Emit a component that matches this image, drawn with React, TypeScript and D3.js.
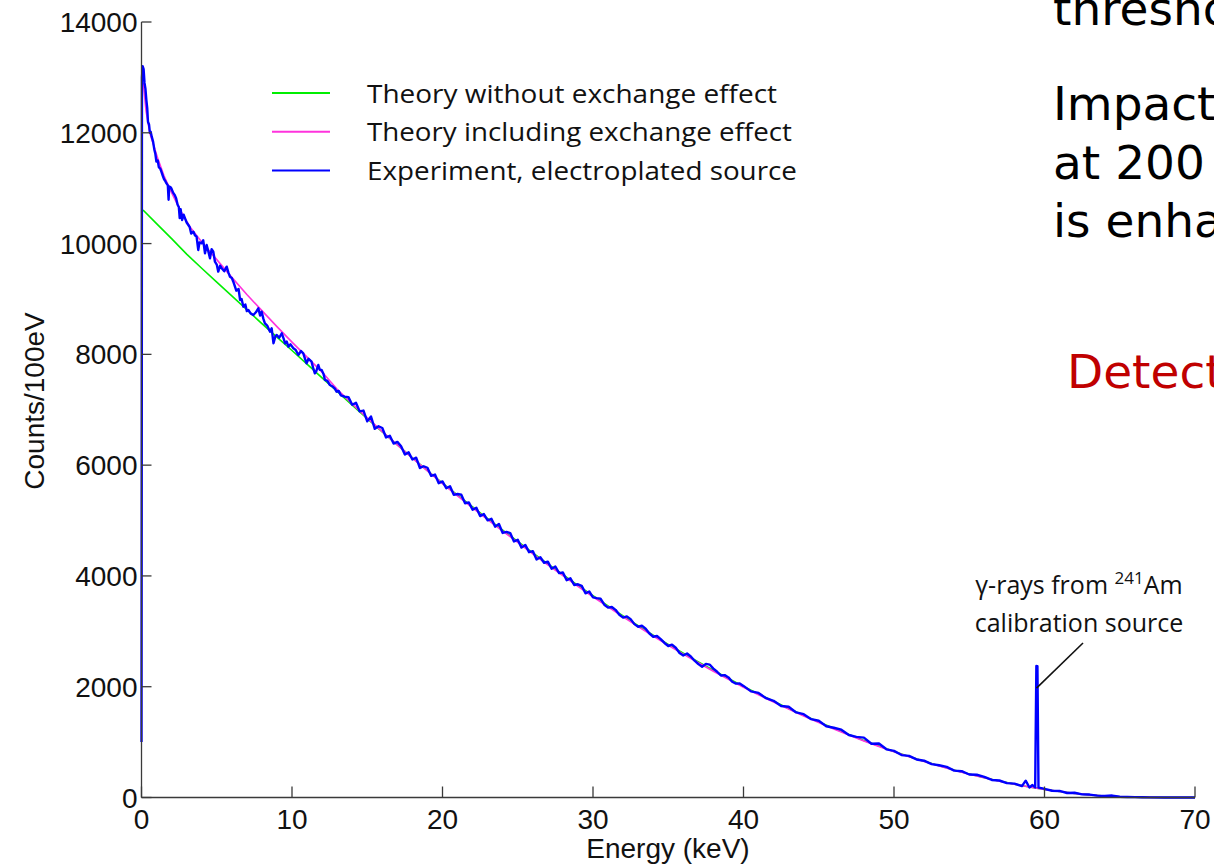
import React from "react";
import * as d3 from "d3";

// ---------- data ----------
const xTicks = [0, 10, 20, 30, 40, 50, 60, 70];
const yTicks = [0, 2000, 4000, 6000, 8000, 10000, 12000, 14000];

const legendLabels = [
  "Theory without exchange effect",
  "Theory including exchange effect",
  "Experiment, electroplated source",
];
const legendWidths = [410, 425, 430];

// Theory without exchange effect [keV, counts/100eV]
const theoryNoExchange: [number, number][] = [
  [0.1, 10606], [1, 10360], [2, 10090], [3, 9810], [4, 9555], [5, 9305], [6, 9055], [7, 8805],
  [8, 8555], [9, 8310], [10, 8070], [11, 7825], [12, 7575], [13, 7330], [14, 7085], [15, 6841],
  [16, 6601], [17, 6365], [18, 6132], [19, 5903], [20, 5677], [21, 5459], [22, 5245], [23, 5034],
  [24, 4826], [25, 4622], [26, 4418], [27, 4218], [28, 4022], [29, 3829], [30, 3642], [31, 3458],
  [32, 3278], [33, 3103], [34, 2932], [35, 2765], [36, 2604], [37, 2448], [38, 2296], [39, 2148],
  [40, 2005], [41, 1868], [42, 1736], [43, 1608], [44, 1484], [45, 1365], [46, 1249], [47, 1138],
  [48, 1031], [49, 929], [50, 832], [51, 741], [52, 654], [53, 573], [54, 496], [55, 425],
  [56, 358], [57, 297], [58, 241], [59, 191], [60, 147], [61, 108], [62, 75], [63, 48],
  [64, 28], [65, 14], [66, 6], [67, 2], [68, 0], [70, 0],
];

// Theory including exchange effect
const theoryExchange: [number, number][] = [
  [0.12, 12900], [0.3, 12400], [0.55, 12000], [0.8, 11780], [1.1, 11520], [1.5, 11220],
  [2.0, 10920], [2.6, 10590], [3.2, 10310], [4, 10030], [5, 9710], [6, 9390], [7, 9080],
  [8, 8790], [9, 8500], [10, 8220], [11, 7950], [12, 7680], [13, 7370], [14, 7105], [15, 6852],
  [16, 6605], [17, 6365], [18, 6125], [19, 5895], [20, 5665], [21, 5445], [22, 5230], [23, 5018],
  [24, 4810], [25, 4605], [26, 4400], [27, 4200], [28, 4004], [29, 3810], [30, 3624], [31, 3440],
  [32, 3260], [33, 3085], [34, 2915], [35, 2748], [36, 2588], [37, 2432], [38, 2280], [39, 2133],
  [40, 1990], [41, 1853], [42, 1722], [43, 1595], [44, 1472], [45, 1354], [46, 1238], [47, 1128],
  [48, 1022], [49, 920], [50, 825], [51, 735], [52, 648], [53, 568], [54, 492], [55, 421],
  [56, 355], [57, 295], [58, 240], [59, 190], [60, 146], [61, 108], [62, 75], [63, 48],
  [64, 28], [65, 14], [66, 6], [67, 2], [68, 0], [70, 0],
];

// Experiment, electroplated source
const experiment: [number, number][] = [
  [0.0, 1000], [0.02, 7400], [0.03, 13000], [0.08, 13200], [0.14, 13150], [0.2, 12900],
  [0.26, 12800], [0.32, 12600], [0.38, 12450], [0.43, 12200], [0.5, 12150], [0.56, 12000],
  [0.61, 12020], [0.68, 11930], [0.77, 11840], [0.85, 11700], [0.92, 11620], [0.99, 11480],
  [1.08, 11500], [1.15, 11380], [1.25, 11350], [1.32, 11300], [1.42, 11220], [1.5, 11160],
  [1.58, 11130], [1.65, 11090], [1.75, 11050], [1.8, 10790], [1.84, 11030], [1.92, 11020],
  [1.98, 11000], [2.1, 10920], [2.2, 10880], [2.3, 10820], [2.4, 10700], [2.48, 10660],
  [2.54, 10460], [2.6, 10620], [2.7, 10426], [2.8, 10520], [2.9, 10450], [3.0, 10380],
  [3.1, 10340], [3.2, 10300], [3.3, 10180], [3.45, 10215], [3.55, 10150], [3.66, 10125],
  [3.77, 9885], [3.85, 10020], [4.0, 10005], [4.1, 10060], [4.22, 9825], [4.33, 9975],
  [4.45, 9850], [4.55, 9735], [4.66, 9900], [4.77, 9854], [4.88, 9673], [5.0, 9620],
  [5.1, 9493], [5.22, 9600], [5.33, 9554], [5.5, 9500], [5.66, 9583], [5.77, 9480],
  [5.88, 9402], [6.0, 9380], [6.1, 9312], [6.3, 9150], [6.45, 9180], [6.55, 8982],
  [6.65, 9000], [6.77, 8861], [6.9, 8900], [7.0, 8780], [7.1, 8801], [7.25, 8740],
  [7.43, 8711], [7.6, 8760], [7.76, 8831], [7.88, 8700], [7.98, 8771], [8.1, 8640],
  [8.2, 8561], [8.35, 8520], [8.54, 8410], [8.65, 8470], [8.77, 8200], [8.9, 8330],
  [8.99, 8350], [9.15, 8300], [9.32, 8380], [9.45, 8280], [9.54, 8200], [9.65, 8230],
  [9.76, 8139], [9.9, 8180], [10.09, 8110], [10.25, 8080], [10.42, 7989], [10.6, 8060],
  [10.75, 8019], [10.85, 7930], [10.97, 7839], [11.1, 7920], [11.3, 7868], [11.4, 7760],
  [11.52, 7658], [11.62, 7700], [11.75, 7808], [11.85, 7720], [11.97, 7718], [12.1, 7640],
  [12.19, 7538], [12.35, 7520], [12.52, 7447], [12.7, 7420], [12.85, 7380], [12.96, 7326],
  [13.1, 7340], [13.25, 7260], [13.5, 7235], [13.75, 7228], [14.0, 7090], [14.25, 7125],
  [14.5, 6970], [14.75, 6985], [15.0, 6790], [15.25, 6878], [15.5, 6655], [15.75, 6702],
  [16.0, 6670], [16.25, 6500], [16.5, 6530], [16.75, 6390], [17.0, 6420], [17.25, 6340],
  [17.5, 6191], [17.75, 6231], [18.0, 6102], [18.25, 6135], [18.5, 5948], [18.75, 5980],
  [19.0, 5953], [19.25, 5806], [19.5, 5830], [19.75, 5674], [20.0, 5707], [20.25, 5582],
  [20.5, 5618], [20.75, 5464], [21.0, 5479], [21.25, 5466], [21.5, 5312], [21.75, 5328],
  [22.0, 5195], [22.25, 5232], [22.5, 5080], [22.75, 5117], [23.0, 5004], [23.25, 5032],
  [23.5, 4890], [23.75, 4938], [24.0, 4776], [24.25, 4795], [24.5, 4774], [24.75, 4623],
  [25.0, 4652], [25.25, 4511], [25.5, 4560], [25.75, 4429], [26.0, 4448], [26.25, 4298],
  [26.5, 4338], [26.75, 4238], [27.0, 4258], [27.25, 4129], [27.5, 4170], [27.75, 4051],
  [28.0, 4062], [28.25, 3924], [28.5, 3956], [28.75, 3837], [29.0, 3849], [29.25, 3822],
  [29.5, 3686], [29.75, 3719], [30.0, 3612], [30.25, 3600], [30.5, 3590], [30.75, 3480],
  [31.0, 3428], [31.25, 3440], [31.5, 3388], [31.75, 3300], [32.0, 3248], [32.25, 3270],
  [32.5, 3220], [32.75, 3130], [33.0, 3083], [33.25, 3100], [33.5, 3048], [33.75, 2960],
  [34.0, 2902], [34.25, 2915], [34.5, 2858], [34.75, 2790], [35.0, 2735], [35.25, 2760],
  [35.5, 2704], [35.75, 2610], [36.0, 2564], [36.25, 2600], [36.5, 2546], [36.75, 2470],
  [37.0, 2408], [37.25, 2360], [37.5, 2412], [37.75, 2400], [38.0, 2326], [38.25, 2270],
  [38.5, 2202], [38.75, 2210], [39.0, 2168], [39.25, 2090], [39.5, 2056], [39.75, 2060],
  [40.0, 2015], [40.5, 1916], [41.0, 1888], [41.5, 1792], [42.0, 1746], [42.5, 1652],
  [43.0, 1638], [43.5, 1536], [44.0, 1504], [44.5, 1414], [45.0, 1385], [45.5, 1287],
  [46.0, 1259], [46.5, 1224], [47.0, 1128], [47.5, 1094], [48.0, 1081], [48.5, 970],
  [49.0, 974], [49.5, 870], [50.0, 842], [50.5, 766], [51.0, 751], [51.5, 687],
  [52.0, 664], [52.5, 603], [53.0, 583], [53.5, 554], [54.0, 486], [54.5, 475],
  [55.0, 415], [55.5, 411], [56.0, 373], [56.5, 317], [57.0, 307], [57.5, 259],
  [58.0, 251], [58.5, 206], [58.75, 304], [59.0, 181], [59.2, 225], [59.38, 182],
  [59.46, 2375], [59.5, 1310], [59.53, 2370], [59.6, 178], [59.8, 170], [60.0, 157],
  [60.5, 122], [61.0, 118], [61.5, 81], [62.0, 85], [62.5, 56], [63.0, 53], [63.5, 33],
  [64.0, 28], [64.5, 35], [65.0, 14], [65.5, 10], [66.0, 6], [66.5, 4], [67.0, 2],
  [68.0, 1], [69.0, 0], [70.0, 0],
];

const rightText = ["thresho", "Impact", "at 200", "is enha"];
const redText = "Detect";

// ---------- layout ----------
const W = 1214;
const H = 864;
const x = d3.scaleLinear().domain([0, 70]).range([141.5, 1195]);
const y = d3.scaleLinear().domain([0, 14000]).range([797.5, 22]);

const line = d3
  .line<[number, number]>()
  .x((d) => x(d[0]))
  .y((d) => y(d[1]));

const axisFont = "'Liberation Sans', Arial, Helvetica, sans-serif";
const calibri = "'Open Sans', Lato, sans-serif";
const verdana = "'DejaVu Sans', Verdana, sans-serif";
const axisColor = "#3a3a3a";

const GREEN = "#00ee00";
const PINK = "#ff33dd";
const BLUE = "#0000ff";

export default function App() {
  const legendColors = [GREEN, PINK, BLUE];
  return (
    <svg
      width={W}
      height={H}
      viewBox={`0 0 ${W} ${H}`}
      style={{ position: "absolute", left: 0, top: 0, background: "#fff" }}
    >
      <rect x={0} y={0} width={W} height={H} fill="#fff" />

      {/* data lines */}
      <path d={line(theoryNoExchange) || ""} fill="none" stroke={GREEN} strokeWidth={1.6} />
      <path d={line(theoryExchange) || ""} fill="none" stroke={PINK} strokeWidth={1.6} />
      <path
        d={line(experiment) || ""}
        fill="none"
        stroke={BLUE}
        strokeWidth={2.4}
        strokeLinejoin="round"
      />

      {/* axes */}
      <line x1={x(0)} x2={x(0)} y1={y(14000)} y2={y(0)} stroke={axisColor} strokeWidth={1.3} />
      <line x1={x(0)} x2={x(70)} y1={y(0)} y2={y(0)} stroke={axisColor} strokeWidth={1.3} />
      {yTicks.map((t) => (
        <g key={"y" + t}>
          <line x1={x(0)} x2={x(0) + 10} y1={y(t)} y2={y(t)} stroke={axisColor} strokeWidth={1.3} />
          <text
            x={x(0) - 4}
            y={y(t) + 10}
            textAnchor="end"
            fontFamily={axisFont}
            fontSize={28}
            fill="#111"
          >
            {t}
          </text>
        </g>
      ))}
      {xTicks.map((t) => (
        <g key={"x" + t}>
          <line x1={x(t)} x2={x(t)} y1={y(0)} y2={y(0) - 11} stroke={axisColor} strokeWidth={1.3} />
          <text
            x={x(t)}
            y={829}
            textAnchor="middle"
            fontFamily={axisFont}
            fontSize={28}
            fill="#111"
          >
            {t}
          </text>
        </g>
      ))}
      <text
        x={668}
        y={858}
        textAnchor="middle"
        fontFamily={axisFont}
        fontSize={28}
        fill="#111"
      >
        Energy (keV)
      </text>
      <text
        transform={`translate(44, 401) rotate(-90)`}
        textAnchor="middle"
        fontFamily={axisFont}
        fontSize={28}
        fill="#111"
      >
        Counts/100eV
      </text>

      {/* legend */}
      {legendLabels.map((lab, i) => (
        <g key={lab}>
          <line
            x1={272}
            x2={330}
            y1={93 + i * 38.8}
            y2={93 + i * 38.8}
            stroke={legendColors[i]}
            strokeWidth={2}
          />
          <text
            x={367}
            y={102.5 + i * 38.8}
            fontFamily={calibri}
            fontSize={26}
            fill="#111"
            textLength={legendWidths[i]}
            lengthAdjust="spacingAndGlyphs"
          >
            {lab}
          </text>
        </g>
      ))}

      {/* annotation */}
      <text x={1079} y={594} textAnchor="middle" fontFamily={calibri} fontSize={25} fill="#111">
        γ-rays from <tspan fontSize={17} dy={-10}>241</tspan>
        <tspan dy={10}>Am</tspan>
      </text>
      <text x={1079} y={632} textAnchor="middle" fontFamily={calibri} fontSize={25} fill="#111">
        calibration source
      </text>
      <line
        x1={x(59.47)}
        y1={y(1975)}
        x2={1083}
        y2={643}
        stroke="#111"
        strokeWidth={1.6}
      />

      {/* right-hand slide text */}
      {rightText.map((t, i) => (
        <text
          key={t}
          x={1053}
          y={i === 0 ? 25 : 120 + (i - 1) * 58.5}
          fontFamily={verdana}
          fontSize={47}
          fill="#000"
        >
          {t}
        </text>
      ))}
      <text x={1067} y={388} fontFamily={verdana} fontSize={47} fill="#c00000">
        {redText}
      </text>
    </svg>
  );
}
